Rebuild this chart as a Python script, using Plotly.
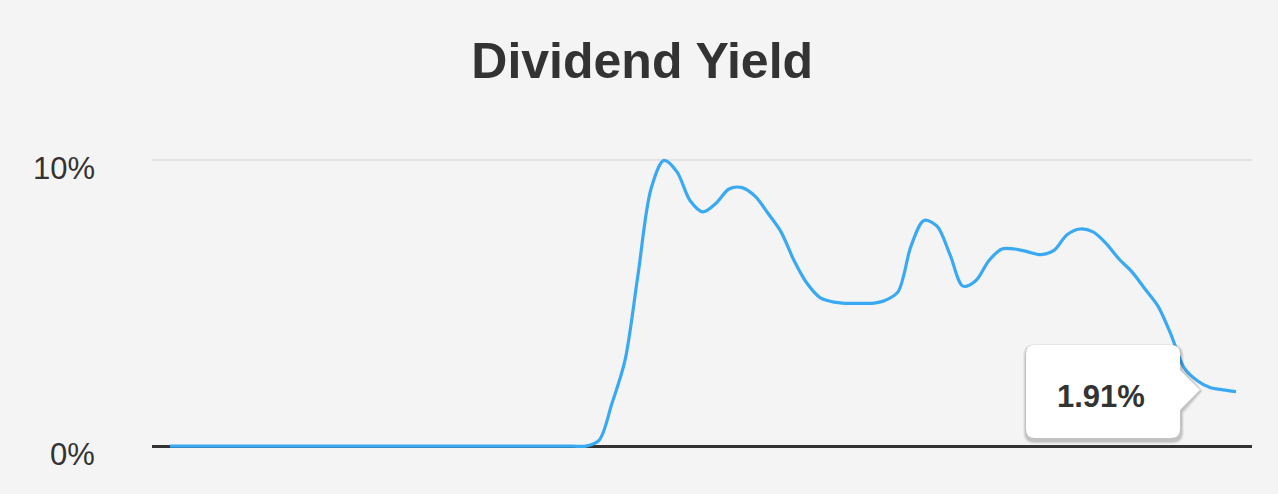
import plotly.graph_objects as go

# ---- data (quarterly index, dividend yield in %) ----
periods = list(range(83))
yield_pct = [0.0] * 33 + [
    0.2, 1.5, 3.0, 6.0, 9.0, 10.0, 9.6, 8.6, 8.2, 8.5,
    9.0, 9.05, 8.75, 8.15, 7.5, 6.5, 5.7, 5.2, 5.05, 5.0,
    5.0, 5.0, 5.1, 5.4, 7.0, 7.9, 7.7, 6.7, 5.6, 5.8,
    6.5, 6.9, 6.9, 6.8, 6.7, 6.85, 7.4, 7.6, 7.5, 7.1,
    6.55, 6.1, 5.5, 4.9, 3.9, 2.75, 2.3, 2.05, 1.97, 1.91,
]
tick_vals = [0, 10]
tick_text = ["0%", "10%"]
last_label = "1.91%"

W, H = 1278, 494
ML, MR, MT, MB = 152, 26, 149, 45
PW, PH = W - ML - MR, H - MT - MB

BG = "#f4f4f4"
LINE = "#3aa9f3"
TXT = "#333333"

fig = go.Figure()
fig.add_trace(go.Scatter(
    x=periods, y=yield_pct, mode="lines",
    line=dict(color=LINE, width=3.2, shape="spline", smoothing=0.9),
    hoverinfo="skip", showlegend=False,
))


def px2paper(px, py):
    return (px - ML) / PW, (H - MB - py) / PH


def tooltip_path(left, top, right, bottom, r, tipx, tipy, aw):
    def P(x, y):
        a, b = px2paper(x, y)
        return f"{a:.6f},{b:.6f}"

    s = f"M {P(left + r, top)} L {P(right - r, top)} Q {P(right, top)} {P(right, top + r)} "
    s += f"L {P(right, tipy - aw)} L {P(tipx, tipy)} L {P(right, tipy + aw)} "
    s += f"L {P(right, bottom - r)} Q {P(right, bottom)} {P(right - r, bottom)} "
    s += f"L {P(left + r, bottom)} Q {P(left, bottom)} {P(left, bottom - r)} "
    s += f"L {P(left, top + r)} Q {P(left, top)} {P(left + r, top)} Z"
    return s


shapes = []
for d, op in [(6, 0.05), (4, 0.07), (2, 0.09)]:
    shapes.append(dict(
        type="path", xref="paper", yref="paper",
        path=tooltip_path(1026 - d / 2, 345 - d / 2 + 2, 1180 + d / 2 + 1, 438 + d / 2 + 3,
                          9 + d / 2, 1200 + d / 2, 391, 20 + d / 2),
        fillcolor=f"rgba(0,0,0,{op})", line=dict(width=0), layer="above",
    ))
shapes.append(dict(
    type="path", xref="paper", yref="paper",
    path=tooltip_path(1026, 345, 1180, 438, 9, 1200, 390, 20),
    fillcolor="#ffffff", line=dict(width=0), layer="above",
))

annotations = []
for v, t in zip(tick_vals, tick_text):
    annotations.append(dict(
        x=0, xref="paper", y=v, yref="y", text=t, showarrow=False,
        xanchor="right", yanchor="middle", xshift=-55, yshift=-8,
        font=dict(family="Liberation Sans, Arial, sans-serif", size=31, color=TXT),
    ))
tx, ty = px2paper(1101, 396)
annotations.append(dict(
    x=tx, y=ty, xref="paper", yref="paper", text=f"<b>{last_label}</b>", showarrow=False,
    xanchor="center", yanchor="middle",
    font=dict(family="Liberation Sans, Arial, sans-serif", size=31, color=TXT),
))

x0 = -18 / 13.0
fig.update_layout(
    width=W, height=H,
    margin=dict(l=ML, r=MR, t=MT, b=MB),
    paper_bgcolor=BG, plot_bgcolor=BG,
    title=dict(
        text="<b>Dividend Yield</b>", x=0.5025, xanchor="center", y=1 - 60 / H, yanchor="middle",
        font=dict(family="Liberation Sans, Arial, sans-serif", size=50, color=TXT),
    ),
    xaxis=dict(range=[x0, x0 + PW / 13.0], showgrid=False, zeroline=False,
               showticklabels=False, ticks="", showline=False, fixedrange=True),
    yaxis=dict(range=[-0.1, 10.4], tickvals=[10], showticklabels=False,
               gridcolor="#e3e3e3", gridwidth=2, zeroline=True,
               zerolinecolor="#333333", zerolinewidth=3, ticks="", showline=False),
    shapes=shapes,
    annotations=annotations,
)

fig.write_html(
    "out.html",
    config={"displayModeBar": False},
    post_script="document.body.style.margin='0';document.body.style.background='#f4f4f4';",
)
